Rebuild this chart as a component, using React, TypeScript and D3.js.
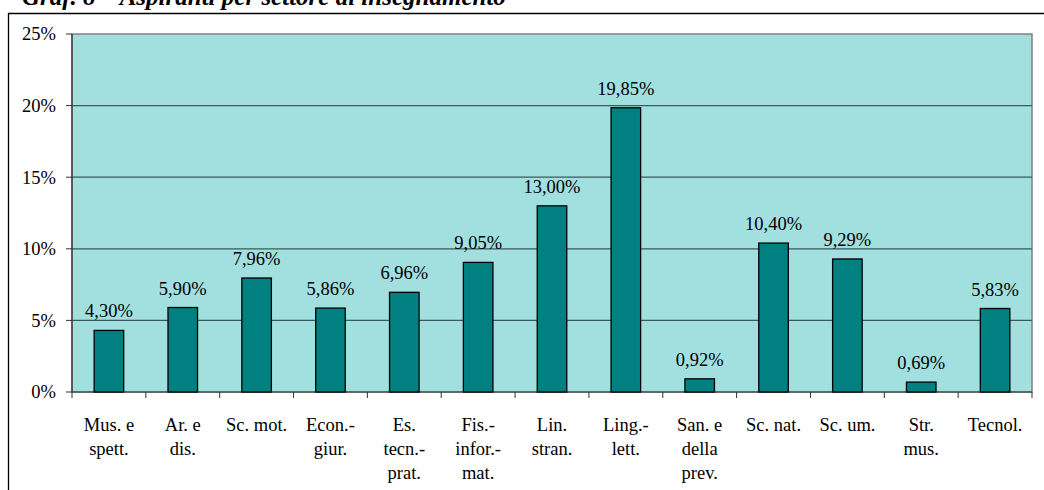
import * as d3 from 'd3';
import React from 'react';

const categories = [
  'Mus. e|spett.', 'Ar. e|dis.', 'Sc. mot.', 'Econ.-|giur.', 'Es.|tecn.-|prat.',
  'Fis.-|infor.-|mat.', 'Lin.|stran.', 'Ling.-|lett.', 'San. e|della|prev.',
  'Sc. nat.', 'Sc. um.', 'Str.|mus.', 'Tecnol.',
];
const values = [4.30, 5.90, 7.96, 5.86, 6.96, 9.05, 13.00, 19.85, 0.92, 10.40, 9.29, 0.69, 5.83];
const yTicks = [0, 5, 10, 15, 20, 25];

const W = 1044;
const H = 490;
const left = 72, right = 1032, top = 34, bottom = 392;
const FONT = '"Liberation Serif", "Times New Roman", serif';

export default function App() {
  const x = d3.scaleBand<number>()
    .domain(d3.range(categories.length))
    .range([left, right])
    .paddingInner(0.6)
    .paddingOuter(0.3);
  const step = x.step();
  const y = d3.scaleLinear().domain([0, 25]).range([bottom, top]);
  const fmt = (v: number) => v.toFixed(2).replace('.', ',') + '%';

  return (
    <div style={{ position: 'absolute', left: 0, top: 0 }}>
      <svg width={W} height={H} style={{ display: 'block' }}>
        <rect x={0} y={0} width={W} height={H} fill="#fff" />
        <text x={22} y={5} fontFamily={FONT} fontSize={25} fontWeight="bold" fontStyle="italic" fill="#000">
          Graf. 8 – Aspiranti per settore di insegnamento
        </text>
        {/* outer frame */}
        <path d={`M8.5,${H + 2} V13.5 H${W + 2}`} fill="none" stroke="#000" strokeWidth={1.3} />
        {/* plot area */}
        <rect x={left} y={top} width={right - left} height={bottom - top} fill="#A2DFDF" stroke="#808080" strokeWidth={1.5} />
        {yTicks.filter(t => t > 0 && t < 25).map(t => (
          <line key={t} x1={left} x2={right} y1={y(t)} y2={y(t)} stroke="#3a5a5a" strokeWidth={1.2} />
        ))}
        {/* axes */}
        <line x1={left} x2={left} y1={top} y2={bottom} stroke="#333" strokeWidth={1.2} />
        <line x1={left} x2={right} y1={bottom} y2={bottom} stroke="#333" strokeWidth={1.2} />
        {yTicks.map(t => (
          <g key={t}>
            <line x1={left - 6} x2={left} y1={y(t)} y2={y(t)} stroke="#333" />
            <text x={56} y={y(t)} dy="0.35em" textAnchor="end" fontFamily={FONT} fontSize={18.5} fill="#000">
              {t}%
            </text>
          </g>
        ))}
        {d3.range(categories.length + 1).map(i => (
          <line key={i} x1={left + i * step} x2={left + i * step} y1={bottom} y2={bottom + 6} stroke="#333" />
        ))}
        {values.map((v, i) => (
          <g key={i}>
            <rect x={x(i)} y={y(v)} width={x.bandwidth()} height={bottom - y(v)}
              fill="#008080" stroke="#000" strokeWidth={1.3} />
            <text x={(x(i) as number) + x.bandwidth() / 2} y={y(v) - 13} textAnchor="middle"
              fontFamily={FONT} fontSize={18.5} fill="#000">
              {fmt(v)}
            </text>
          </g>
        ))}
        {categories.map((c, i) => (
          <text key={i} x={(x(i) as number) + x.bandwidth() / 2} y={431} textAnchor="middle"
            fontFamily={FONT} fontSize={18.5} fill="#000">
            {c.split('|').map((ln, j) => (
              <tspan key={j} x={(x(i) as number) + x.bandwidth() / 2} dy={j === 0 ? 0 : 24}>{ln}</tspan>
            ))}
          </text>
        ))}
      </svg>
    </div>
  );
}
